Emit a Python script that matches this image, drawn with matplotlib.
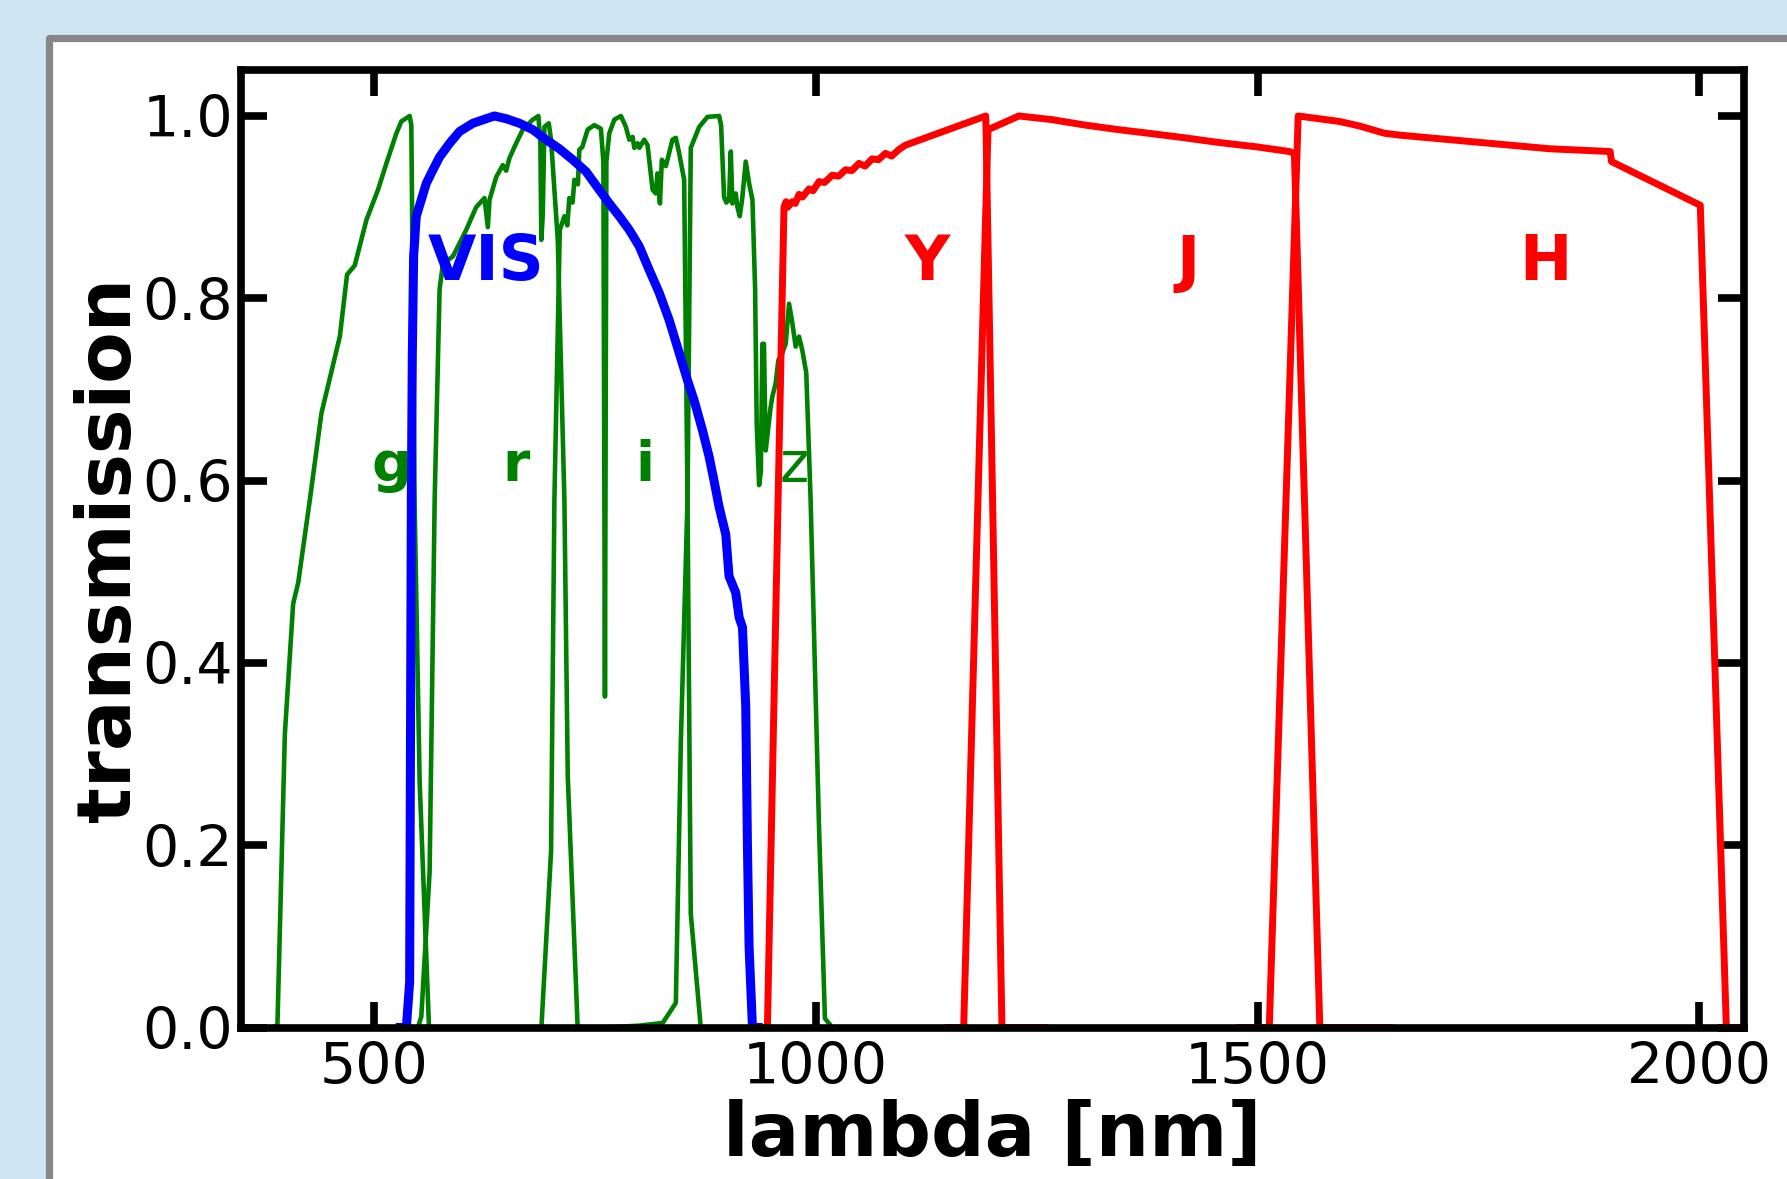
import matplotlib
matplotlib.use("Agg")
import matplotlib.pyplot as plt
from matplotlib.patches import Rectangle

# ---------------- data ----------------
g_wl = [380, 386, 391, 399.4, 408.8, 414.5, 427.7, 440.8, 461.6, 469.8, 478.5, 491.7, 504.8,
        514.3, 525.6, 531.2, 540.6, 542.5, 546.3, 551.9, 562.5, 600]
g_t = [0, 0, 0.003, 0.322, 0.465, 0.488, 0.579, 0.674, 0.758, 0.826, 0.836, 0.886, 0.919,
       0.948, 0.981, 0.994, 1.0, 0.99, 0.57, 0.27, 0.0, 0.0]

r_wl = [520, 550, 553.8, 563.2, 568.9, 574.5, 578.3, 589.6, 604.6, 615.9, 625.3, 629.1, 631.0,
        638.5, 646.0, 649.8, 653.6, 661.1, 668.6, 679.9, 686.3, 688.5, 689.6, 691.2, 693.1,
        698.0, 700.6, 704.4, 708.2, 715.7, 719.5, 730.7, 760]
r_t = [0, 0, 0.012, 0.171, 0.579, 0.81, 0.838, 0.846, 0.875, 0.9, 0.91, 0.878, 0.908,
       0.933, 0.946, 0.94, 0.954, 0.97, 0.985, 0.996, 1.0, 0.97, 0.864, 0.891, 0.988,
       0.992, 0.974, 0.919, 0.864, 0.579, 0.276, 0.0, 0.0]

i_wl = [660, 689.7, 700.6, 704.4, 710.5, 715.7, 719.0, 721.3, 725.0, 727.0, 731.0, 732.6, 736.0,
        742.0, 749.5, 757.0, 759.8, 761.6, 763.2, 766.5, 772.2, 779.7, 785.3, 789.1, 792.9,
        794.8, 798.6, 800.4, 806.0, 809.8, 815.5, 819.2, 821.0, 823.8, 826.0, 830.5, 838.0,
        841.8, 845.6, 851.2, 855.0, 858.7, 870.0, 900]
i_t = [0, 0, 0.193, 0.579, 0.875, 0.89, 0.88, 0.91, 0.905, 0.93, 0.925, 0.963, 0.966,
       0.985, 0.99, 0.986, 0.95, 0.363, 0.95, 0.981, 0.996, 1.0, 0.988, 0.974, 0.977,
       0.965, 0.97, 0.965, 0.974, 0.968, 0.919, 0.915, 0.937, 0.904, 0.952, 0.945, 0.974,
       0.976, 0.959, 0.93, 0.579, 0.125, 0.0, 0.0]

z_wl = [760, 800, 827, 841.8, 847.5, 855.0, 858.7, 868.2, 877.6, 890.8, 893.0, 896.4, 899.0,
        902.0, 904.0, 905.8, 909.6, 911.5, 914.1, 917.0, 920.9, 924.7, 928.5, 931.5, 933.3,
        936.0, 938.0, 939.7, 941.5, 943.5, 946.5, 949.0, 951.0, 954.8, 957.8, 962.3, 966.1,
        969.9, 973.6, 977.4, 981.2, 984.9, 989.4, 994.3, 1003.8, 1010.5, 1018.8, 1030]
z_t = [0, 0.002, 0.005, 0.027, 0.314, 0.579, 0.965, 0.988, 0.999, 1.0, 0.99, 0.911, 0.905,
       0.908, 0.961, 0.904, 0.915, 0.9, 0.89, 0.91, 0.95, 0.926, 0.908, 0.81, 0.663,
       0.595, 0.61, 0.75, 0.75, 0.633, 0.659, 0.68, 0.692, 0.707, 0.732, 0.74, 0.75,
       0.794, 0.773, 0.747, 0.758, 0.743, 0.718, 0.579, 0.22, 0.01, 0.0, 0.0]

vis_wl = [530, 536.9, 540.6, 542.5, 543.6, 545.1, 548.1, 553.8, 559.4, 567.0, 574.5, 585.8,
          597.1, 612.2, 627.2, 636.6, 649.8, 664.9, 679.9, 695.0, 710.0, 725.1, 740.2, 755.2,
          766.5, 777.8, 789.1, 800.4, 811.7, 823.0, 834.3, 845.6, 855.0, 862.5, 872.0, 879.5,
          885.0, 890.8, 898.3, 902.0, 909.6, 913.4, 917.2, 920.9, 922.8, 924.7, 928.5, 935]
vis_t = [0, 0, 0.05, 0.579, 0.736, 0.846, 0.89, 0.908, 0.926, 0.941, 0.955, 0.97,
         0.983, 0.992, 0.997, 1.0, 0.997, 0.992, 0.985, 0.974, 0.964, 0.952, 0.939, 0.919,
         0.904, 0.89, 0.875, 0.857, 0.831, 0.806, 0.776, 0.74, 0.71, 0.688, 0.655, 0.626,
         0.60, 0.571, 0.541, 0.495, 0.477, 0.45, 0.439, 0.352, 0.201, 0.088, 0.0, 0.0]

Y_wl = [935, 945.4, 964.2, 966.5, 968.5, 973.6, 977, 981.2, 985, 992.5, 997, 1003.8, 1010,
        1018.8, 1026, 1033.9, 1041, 1049, 1056, 1064, 1071, 1079, 1086, 1094, 1101.6,
        1192.5, 1210.8, 1260]
Y_t = [0, 0, 0.9, 0.906, 0.9, 0.906, 0.904, 0.914, 0.911, 0.92, 0.918, 0.928, 0.927,
       0.935, 0.934, 0.941, 0.94, 0.948, 0.945, 0.953, 0.952, 0.959, 0.956, 0.963, 0.968,
       1.0, 0.0, 0.0]

J_wl = [1150, 1167.5, 1195.0, 1230.0, 1267.3, 1305.0, 1342.6, 1377.2, 1418.0, 1455.5, 1500.0,
        1536.0, 1541.7, 1570.5, 1650]
J_t = [0, 0, 0.985, 1.0, 0.996, 0.99, 0.985, 0.981, 0.976, 0.971, 0.966,
       0.961, 0.959, 0.0, 0.0]

H_wl = [1480, 1513.3, 1546.0, 1592.7, 1615.4, 1643.8, 1660.8, 1717.5, 1774.2, 1830.9, 1899.0,
        1900.5, 2001.0, 2030.5, 2045]
H_t = [0, 0, 1.0, 0.994, 0.989, 0.981, 0.979, 0.974, 0.969, 0.964, 0.961,
       0.95, 0.902, 0.0, 0.0]

green_labels = ["g", "r", "i", "z"]
green_label_x = [498, 645, 796, 959]
green_label_weight = ["bold", "bold", "bold", "normal"]
red_labels = ["Y", "J", "H"]
red_label_x = [1101, 1408, 1796]
x_ticks = [500, 1000, 1500, 2000]
y_ticks = [0.0, 0.2, 0.4, 0.6, 0.8, 1.0]

# ---------------- figure ----------------
W, H = 1787, 1179
fig = plt.figure(figsize=(W / 100, H / 100), dpi=100)
fig.patch.set_facecolor("#cfe6f2")

# white slide panel with grey border (behind the axes)
panel = Rectangle((48.5 / W, -0.05), (1792 - 48.5) / W, (1 - 38 / H) + 0.05,
                  transform=fig.transFigure, facecolor="white", edgecolor="#878787",
                  linewidth=5.2, joinstyle="round", zorder=-10)
fig.patches.append(panel)

ax = fig.add_axes([241.2 / W, 1 - 1027.5 / H, 1502.4 / W, 957.1 / H])
ax.set_zorder(1)
ax.set_facecolor("white")

for wl, t in [(g_wl, g_t), (r_wl, r_t), (i_wl, i_t), (z_wl, z_t)]:
    ax.plot(wl, t, color="green", lw=3.3, solid_joinstyle="round", zorder=1.8)
ax.plot(vis_wl, vis_t, color="blue", lw=6.5, solid_joinstyle="round", zorder=2.0)
for wl, t in [(Y_wl, Y_t), (J_wl, J_t), (H_wl, H_t)]:
    ax.plot(wl, t, color="red", lw=5.0, solid_joinstyle="round", zorder=2.2)

for lab, x, w in zip(green_labels, green_label_x, green_label_weight):
    ax.text(x, 0.6, lab, color="green", fontsize=40, fontweight=w,
            ha="left", va="baseline", zorder=5)
ax.text(561, 0.82, "VIS", color="blue", fontsize=45, fontweight="bold",
        ha="left", va="baseline", zorder=5)
for lab, x in zip(red_labels, red_label_x):
    ax.text(x, 0.82, lab, color="red", fontsize=45, fontweight="bold",
            ha="left", va="baseline", zorder=5)

ax.set_xlim(350, 2050)
ax.set_ylim(0, 1.05)
ax.set_xticks(x_ticks)
ax.set_yticks(y_ticks)
ax.set_yticklabels([f"{v:.1f}" for v in y_ticks])
ax.tick_params(direction="in", length=19, width=5.5, labelsize=41, pad=10,
               top=True, right=True)
ax.tick_params(axis="y", pad=6)
for s in ax.spines.values():
    s.set_linewidth(5.5)

ax.set_xlabel("lambda [nm]", fontsize=54, fontweight="bold", labelpad=2)
ax.set_ylabel("transmission", fontsize=54, fontweight="bold", labelpad=-3)

fig.savefig("out.png", dpi=100, facecolor=fig.get_facecolor())
